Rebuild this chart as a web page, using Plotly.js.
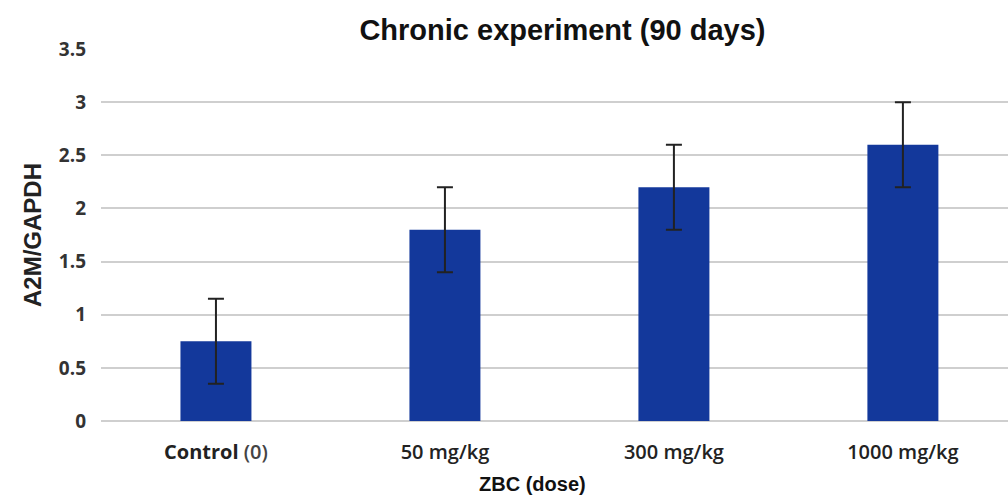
<!DOCTYPE html>
<html>
<head>
<meta charset="utf-8">
<script src="https://cdn.plot.ly/plotly-3.0.1.min.js"></script>
<style>html,body{margin:0;padding:0;background:#fff;}#chart{width:1008px;height:498px;}</style>
</head>
<body>
<div id="chart"></div>
<script>
const categories = ["Control (0)", "50 mg/kg", "300 mg/kg", "1000 mg/kg"];
const tickLabels = ["<b>Control</b> <span style='color:#444'>(0)</span>", "50 mg/kg", "300 mg/kg", "1000 mg/kg"];
const values = [0.75, 1.8, 2.2, 2.6];
const errors = [0.4, 0.4, 0.4, 0.4];
const yTickVals = [0, 0.5, 1, 1.5, 2, 2.5, 3, 3.5];
const yTickText = ["0", "0.5", "1", "1.5", "2", "2.5", "3", "3.5"];
const xTitle = "<b>ZBC (dose)</b>";

const trace = {
  type: "bar",
  x: categories,
  y: values,
  width: 0.31,
  marker: {color: "#13389b"},
  error_y: {type: "data", array: errors, visible: true, color: "#222222", thickness: 2, width: 8},
  hoverinfo: "skip"
};

const layout = {
  width: 1008, height: 498,
  margin: {l: 101, r: 0, t: 49, b: 77, pad: 0},
  paper_bgcolor: "#ffffff", plot_bgcolor: "#ffffff",
  showlegend: false,
  title: {
    text: "<b>Chronic experiment (90 days)</b>",
    font: {family: "Liberation Sans, Arial, sans-serif", size: 29, color: "#111111"},
    x: 0.558, xanchor: "center", y: 0.94, yanchor: "middle"
  },
  xaxis: {
    type: "category",
    range: [-0.502, 3.459],
    tickvals: categories,
    ticktext: tickLabels,
    showgrid: false, zeroline: false, showline: false, ticks: "",
    ticklen: 0,
    ticklabelstandoff: 17,
    tickfont: {family: "Open Sans, sans-serif", size: 20, color: "#222222", weight: 600}
  },
  yaxis: {
    range: [0, 3.5],
    tickvals: yTickVals,
    ticktext: yTickText,
    showgrid: true, gridcolor: "#cfcfcf", gridwidth: 2,
    zeroline: true, zerolinecolor: "#cfcfcf", zerolinewidth: 2,
    showline: false, ticks: "",
    ticklabelstandoff: 14,
    tickfont: {family: "Open Sans, sans-serif", size: 19, color: "#333333", weight: 700},
    title: {text: "<b>A2M/GAPDH</b>", font: {family: "Liberation Sans, Arial, sans-serif", size: 24, color: "#222222"}, standoff: 10}
  },
  annotations: [{
    text: xTitle, xref: "paper", yref: "paper", x: 0.476, y: -0.17,
    xanchor: "center", yanchor: "middle", showarrow: false,
    font: {family: "Liberation Sans, Arial, sans-serif", size: 20, color: "#111111"}
  }]
};

Plotly.newPlot("chart", [trace], layout, {displayModeBar: false, staticPlot: true});
</script>
</body>
</html>
